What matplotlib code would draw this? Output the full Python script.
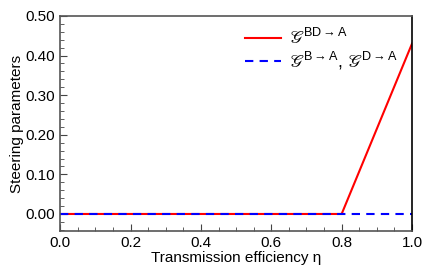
import numpy as np
import matplotlib
matplotlib.use("Agg")
from matplotlib import pyplot as plt
from matplotlib.ticker import MultipleLocator, FormatStrFormatter

plt.rcParams['font.family'] = ['Liberation Sans', 'DejaVu Sans']
plt.rcParams['mathtext.fontset'] = 'custom'
plt.rcParams['mathtext.rm'] = 'Liberation Sans'
plt.rcParams['mathtext.it'] = 'Liberation Sans:italic'
plt.rcParams['mathtext.fallback'] = 'stix'

# data
eta = [0.0, 0.8, 1.0]
g_bd_a = [0.0, 0.0, 0.43]
g_b_a = [0.0, 0.0, 0.0]

fig = plt.figure(figsize=(4.36, 2.79), dpi=100)
ax = fig.add_axes([0.138, 0.172, 0.807, 0.771])

ax.plot(eta, g_bd_a, color="red", lw=1.5,
        label="$\U0001D4A2^{\\mathrm{BD}\\rightarrow\\mathrm{A}}$")
ax.plot(eta, g_b_a, color="blue", lw=1.5, ls=(0, (4, 3)),
        label="$\U0001D4A2^{\\mathrm{B}\\rightarrow\\mathrm{A}}$, "
              "$\U0001D4A2^{\\mathrm{D}\\rightarrow\\mathrm{A}}$")

ax.set_xlim(0, 1.0)
ax.set_ylim(-0.043, 0.5)
ax.xaxis.set_major_locator(MultipleLocator(0.2))
ax.xaxis.set_minor_locator(MultipleLocator(0.05))
ax.yaxis.set_major_locator(MultipleLocator(0.1))
ax.yaxis.set_minor_locator(MultipleLocator(0.02))
ax.xaxis.set_major_formatter(FormatStrFormatter("%.1f"))
ax.yaxis.set_major_formatter(FormatStrFormatter("%.2f"))
ax.tick_params(which="both", direction="in", labelsize=11, color="#444444")
ax.tick_params(which="major", length=5)
ax.tick_params(which="minor", length=3)
for s in ax.spines.values():
    s.set_color("#555555")
    s.set_linewidth(1.2)
ax.spines["right"].set_color("black")

ax.set_xlabel("Transmission efficiency η", fontsize=11, labelpad=1)
ax.set_ylabel("Steering parameters", fontsize=11, labelpad=1)

ax.legend(loc="upper left", bbox_to_anchor=(0.48, 1.02), frameon=False,
          fontsize=13, handlelength=2.0, handletextpad=0.4, labelspacing=0.1)

fig.savefig("out.png", dpi=100)
